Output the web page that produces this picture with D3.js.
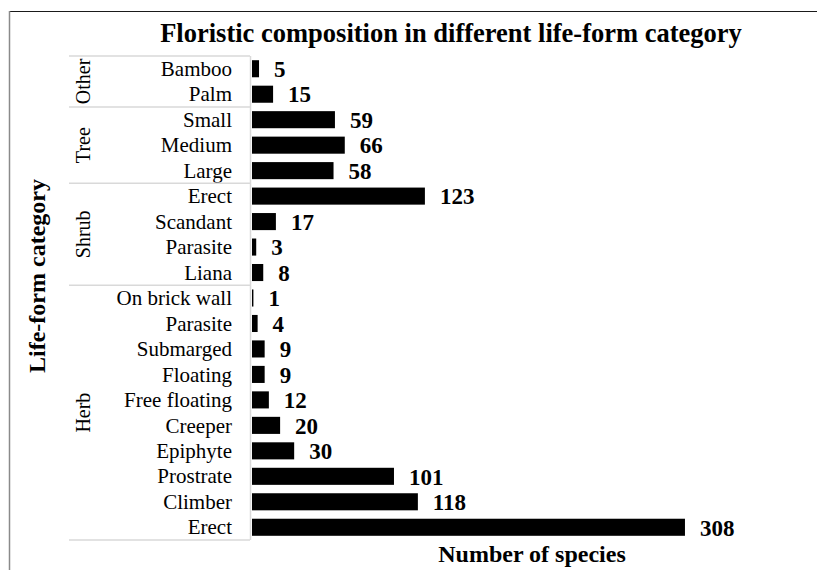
<!DOCTYPE html>
<html>
<head>
<meta charset="utf-8">
<script src="https://cdn.jsdelivr.net/npm/d3@7/dist/d3.min.js"></script>
<style>
  html, body { margin: 0; padding: 0; background: #fff; }
  svg { display: block; }
  text { font-family: "Liberation Serif", "Times New Roman", serif; }
</style>
</head>
<body>
<svg id="chart" width="817" height="570"></svg>
<script>
// ---- data ----
const groups = ["Other", "Tree", "Shrub", "Herb"];
const groupSizes = [2, 3, 4, 10];
const categories = ["Bamboo", "Palm", "Small", "Medium", "Large", "Erect", "Scandant", "Parasite", "Liana",
  "On brick wall", "Parasite", "Submarged", "Floating", "Free floating", "Creeper", "Epiphyte", "Prostrate", "Climber", "Erect"];
const values = [5, 15, 59, 66, 58, 123, 17, 3, 8, 1, 4, 9, 9, 12, 20, 30, 101, 118, 308];
const title = "Floristic composition in different life-form category";
const xTitle = "Number of species";
const yTitle = "Life-form category";

(function () {
// ---- build rows ----
const rows = [];
let gi = 0, cnt = 0;
categories.forEach((c, i) => {
  if (cnt >= groupSizes[gi]) { gi++; cnt = 0; }
  rows.push({ key: i + "|" + c, cat: c, value: values[i], group: groups[gi] });
  cnt++;
});

const svg = d3.select("#chart");

// frame
svg.append("line").attr("x1", 9).attr("x2", 817).attr("y1", 11.5).attr("y2", 11.5)
  .attr("stroke", "#1a1a1a").attr("stroke-width", 1.2);
svg.append("line").attr("x1", 9.5).attr("x2", 9.5).attr("y1", 11).attr("y2", 570)
  .attr("stroke", "#8a8a8a").attr("stroke-width", 1.5);

const plotTop = 56, plotBottom = 540;
const y = d3.scaleBand().domain(rows.map(r => r.key)).range([plotTop, plotBottom]).paddingInner(0.33).paddingOuter(0.165);
const x = d3.scaleLinear().domain([0, 350]).range([252, 744]);

// category axis (labels)
const yAxis = d3.axisLeft(y).tickSize(0).tickPadding(0)
  .tickFormat(k => rows.find(r => r.key === k).cat);
const gA = svg.append("g").attr("transform", "translate(232,0)").call(yAxis);
gA.attr("font-family", null);
gA.select(".domain").remove();
gA.selectAll("text").attr("font-size", 21).attr("fill", "#000")
  .attr("font-family", "Liberation Serif, Times New Roman, serif").attr("dy", "0.34em");

// group boundaries
const lineColor = "#d9d9d9";
svg.append("line").attr("x1", 250.5).attr("x2", 250.5).attr("y1", plotTop).attr("y2", plotBottom)
  .attr("stroke", lineColor).attr("stroke-width", 1.5);
let start = 0;
const boundaries = [plotTop];
groupSizes.forEach((n, i) => {
  const ys = plotTop + start * (plotBottom - plotTop) / rows.length;
  const ye = plotTop + (start + n) * (plotBottom - plotTop) / rows.length;
  boundaries.push(ye);
  svg.append("text")
    .attr("transform", `translate(83,${(ys + ye) / 2}) rotate(-90)`)
    .attr("text-anchor", "middle").attr("dy", "0.34em")
    .attr("font-size", 20).attr("fill", "#000").text(groups[i]);
  start += n;
});
boundaries.forEach(b => {
  svg.append("line").attr("x1", 69).attr("x2", 250).attr("y1", b).attr("y2", b)
    .attr("stroke", lineColor).attr("stroke-width", 1.5);
});

// bars
svg.append("g").selectAll("rect").data(rows).join("rect")
  .attr("x", x(0)).attr("y", d => y(d.key))
  .attr("width", d => x(d.value) - x(0)).attr("height", y.bandwidth())
  .attr("fill", "#000");

// value labels
svg.append("g").selectAll("text").data(rows).join("text")
  .attr("x", d => x(d.value) + 15).attr("y", d => y(d.key) + y.bandwidth() / 2)
  .attr("dy", "0.36em").attr("font-size", 23).attr("font-weight", "bold").attr("fill", "#000")
  .text(d => d.value);

// titles
svg.append("text").attr("x", 451).attr("y", 42).attr("text-anchor", "middle")
  .attr("font-size", 26.5).attr("font-weight", "bold").text(title);
svg.append("text").attr("x", 532).attr("y", 562).attr("text-anchor", "middle")
  .attr("font-size", 24).attr("font-weight", "bold").text(xTitle);
svg.append("text").attr("transform", "translate(37,276) rotate(-90)").attr("text-anchor", "middle")
  .attr("dy", "0.34em").attr("font-size", 24).attr("font-weight", "bold").text(yTitle);
})();
</script>
</body>
</html>
